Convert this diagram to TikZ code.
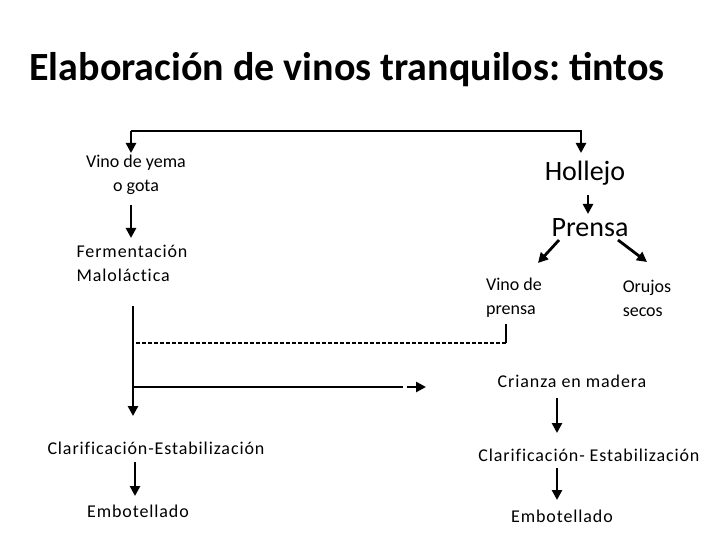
\documentclass[tikz,border=0pt]{standalone}
\usepackage{fontspec}
\setmainfont{Carlito}
\newfontfamily\spaced[LetterSpace=5,Ligatures=NoCommon]{Carlito}
\usetikzlibrary{arrows.meta}
\frenchspacing
\begin{document}
\begin{tikzpicture}[x=1pt,y=-1pt,
  >={Triangle[length=10pt,width=10pt]},
  conn/.style={line width=2.8pt},
  txt/.style={inner sep=0pt, font=\fontsize{18}{24}\selectfont},
  stxt/.style={inner sep=0pt, font=\spaced\fontsize{18}{24}\selectfont},
  big/.style={inner sep=0pt, font=\fontsize{28}{32}\selectfont}]
\useasboundingbox (0,0) rectangle (720,540);
\node[inner sep=0pt, font=\bfseries\fontsize{40}{48}\selectfont] (title) at (347,70) {Elaboración de vinos tranquilos: tintos};
\node[txt, align=center] (yema) at (136,175) {Vino de yema\\o gota};
\node[big] (hollejo) at (585,173) {Hollejo};
\node[big] (prensa) at (590,228) {Prensa};
\node[stxt, align=left] (ferm) at (132,263) {Fermentación\\Maloláctica};
\node[txt, align=left] (vprensa) at (514,298) {Vino de\\prensa};
\node[txt, align=left] (orujos) at (647,298) {Orujos\\secos};
\node[stxt] (crianza) at (572,381) {Crianza en madera};
\node[stxt] (clarR) at (589,455) {Clarificación- Estabilización};
\node[stxt] (embR) at (562,516) {Embotellado};
\node[stxt] (clarL) at (156,448) {Clarificación-Estabilización};
\node[stxt] (embL) at (138,511) {Embotellado};
% coordinates
\coordinate (topL) at (131,131);
\coordinate (topR) at (581,131);
\coordinate (yemaIn) at (131,153);
\coordinate (holIn) at (581,153);
\coordinate (holOut) at (588,195);
\coordinate (preIn) at (588,214);
\coordinate (yemaOut) at (131,205);
\coordinate (fermIn) at (131,238);
\coordinate (preL) at (559,240);
\coordinate (vpIn) at (538,263);
\coordinate (preR) at (618,240);
\coordinate (orIn) at (647,262);
\coordinate (vpOut) at (506,324);
\coordinate (vpCorner) at (506,343);
\coordinate (leftTop) at (133,306);
\coordinate (dashL) at (133,343);
\coordinate (crL) at (133,387);
\coordinate (crMid) at (403,387);
\coordinate (crTipS) at (407,387);
\coordinate (crTip) at (426,387);
\coordinate (clLIn) at (133,416);
\coordinate (crOut) at (557,398);
\coordinate (clRIn) at (557,433);
\coordinate (clROut) at (557,468);
\coordinate (emRIn) at (557,500);
\coordinate (clLOut) at (135,462);
\coordinate (emLIn) at (135,496);
% connectors
\draw[conn,->] (topL) -- (topR) -- (holIn);
\draw[conn,->] (topL) -- (yemaIn);
\draw[conn,->] (holOut) -- (preIn);
\draw[conn,->] (yemaOut) -- (fermIn);
\draw[conn,->] (preL) -- (vpIn);
\draw[conn,->] (preR) -- (orIn);
\draw[conn] (vpOut) -- (vpCorner);
\draw[conn, dash pattern=on 4pt off 2pt] (vpCorner) -- (dashL);
\draw[conn,->] (leftTop) -- (clLIn);
\draw[conn] (crL) -- (crMid);
\draw[conn,->] (crTipS) -- (crTip);
\draw[conn,->] (crOut) -- (clRIn);
\draw[conn,->] (clROut) -- (emRIn);
\draw[conn,->] (clLOut) -- (emLIn);
\end{tikzpicture}
\end{document}
